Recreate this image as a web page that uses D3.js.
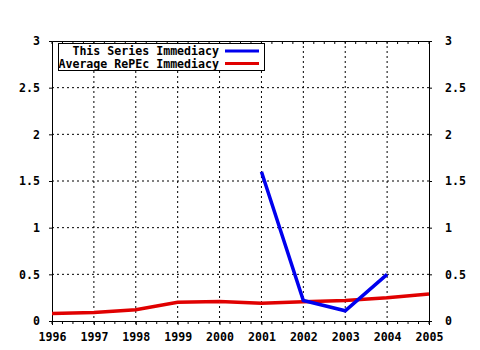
<!DOCTYPE html>
<html>
<head>
<meta charset="utf-8">
<script src="https://cdn.jsdelivr.net/npm/d3@7"></script>
<style>
body { margin: 0; background: #fff; }
text { font-family: "DejaVu Sans Mono", monospace; font-weight: bold; font-size: 11.6px; }
</style>
</head>
<body>
<svg id="chart"></svg>
<script>
const years = [1996, 1997, 1998, 1999, 2000, 2001, 2002, 2003, 2004, 2005];
const seriesYears = [2001, 2002, 2003, 2004];
const seriesValues = [1.6, 0.22, 0.11, 0.5];
const averageValues = [0.08, 0.09, 0.12, 0.2, 0.21, 0.19, 0.205, 0.22, 0.25, 0.29];
const yTicks = [0, 0.5, 1, 1.5, 2, 2.5, 3];
const legendLabels = ['This Series Immediacy', 'Average RePEc Immediacy'];

const width = 480, height = 350;
const plotLeft = 52, plotRight = 429, plotTop = 41, plotBottom = 321;
const blue = '#0000ee', red = '#e00000';

const svg = d3.select('#chart')
    .attr('width', width)
    .attr('height', height);

const x = d3.scaleLinear().domain([1996, 2005]).range([plotLeft, plotRight]);
const y = d3.scaleLinear().domain([0, 3]).range([plotBottom, plotTop]);

const fmt = d => d3.format('')(d);

// grid
svg.append('g').selectAll('line').data(years.slice(1, -1)).join('line')
    .attr('x1', d => x(d)).attr('x2', d => x(d))
    .attr('y1', plotTop).attr('y2', plotBottom)
    .attr('stroke', '#000').attr('stroke-dasharray', '2,3');
svg.append('g').selectAll('line').data(yTicks.slice(1, -1)).join('line')
    .attr('x1', plotLeft).attr('x2', plotRight)
    .attr('y1', d => y(d)).attr('y2', d => y(d))
    .attr('stroke', '#000').attr('stroke-dasharray', '2,3');

// minor ticks (quarters)
const minor = d3.range(1996, 2005.01, 0.25);
svg.append('g').selectAll('line').data(minor).join('line')
    .attr('x1', d => x(d)).attr('x2', d => x(d))
    .attr('y1', plotBottom).attr('y2', plotBottom + 3)
    .attr('stroke', '#000');
svg.append('g').selectAll('line').data(minor).join('line')
    .attr('x1', d => x(d)).attr('x2', d => x(d))
    .attr('y1', plotTop).attr('y2', plotTop + 3)
    .attr('stroke', '#000');

// axes
svg.append('g')
    .attr('transform', `translate(0,${plotBottom})`)
    .call(d3.axisBottom(x).tickValues(years).tickFormat(d3.format('d')).tickSize(4).tickPadding(8));
svg.append('g')
    .attr('transform', `translate(0,${plotTop})`)
    .call(d3.axisTop(x).tickValues(years).tickFormat('').tickSize(0));
svg.append('g')
    .attr('transform', `translate(${plotLeft},0)`)
    .call(d3.axisLeft(y).tickValues(yTicks).tickFormat(fmt).tickSize(3).tickPadding(9));
svg.append('g')
    .attr('transform', `translate(${plotRight},0)`)
    .call(d3.axisRight(y).tickValues(yTicks).tickFormat(fmt).tickSize(3).tickPadding(13));

svg.selectAll('.tick text').attr('fill', '#000')
    .style('font-family', '"DejaVu Sans Mono", monospace')
    .style('font-weight', 'bold').style('font-size', '11.6px');
svg.selectAll('.domain').attr('stroke', '#000').attr('stroke-width', 1);

// lines
const line = d3.line().x(d => x(d[0])).y(d => y(d[1]));
svg.append('path')
    .datum(years.map((d, i) => [d, averageValues[i]]))
    .attr('d', line).attr('fill', 'none')
    .attr('stroke', red).attr('stroke-width', 3.5);
svg.append('path')
    .datum(seriesYears.map((d, i) => [d, seriesValues[i]]))
    .attr('d', line).attr('fill', 'none')
    .attr('stroke', blue).attr('stroke-width', 3.5);

// legend
svg.append('rect')
    .attr('x', 58.5).attr('y', 43.5).attr('width', 206).attr('height', 27)
    .attr('fill', '#fff').attr('stroke', '#000');
const colors = [blue, red];
legendLabels.forEach((label, i) => {
    const ly = 51 + i * 12.5;
    svg.append('text')
        .attr('x', 219).attr('y', ly + 4)
        .attr('text-anchor', 'end')
        .text(label);
    svg.append('line')
        .attr('x1', 225).attr('x2', 259)
        .attr('y1', ly).attr('y2', ly)
        .attr('stroke', colors[i]).attr('stroke-width', 3);
});
</script>
</body>
</html>
